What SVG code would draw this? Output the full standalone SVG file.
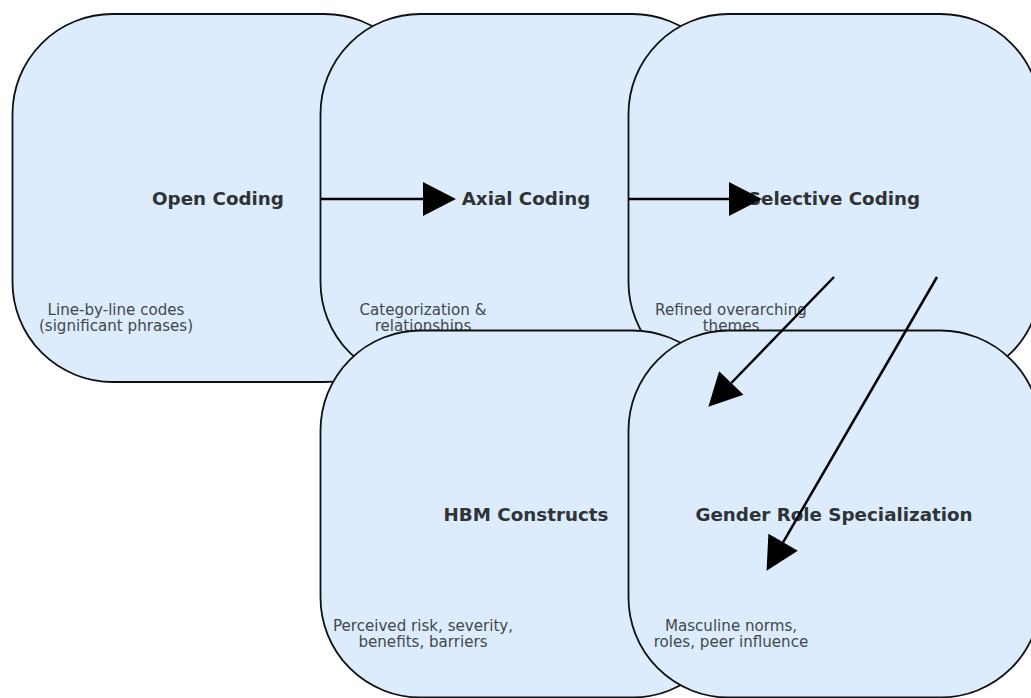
<svg xmlns="http://www.w3.org/2000/svg" width="1031" height="698" viewBox="0 0 1031 698">
  <style>
    .box { fill: #dcecfd; stroke: #111111; stroke-width: 1.8; }
    .title { font-family: "DejaVu Sans", sans-serif; font-weight: bold; font-size: 18.3px; fill: #2f3336; text-anchor: middle; }
    .sub { font-family: "DejaVu Sans", sans-serif; font-size: 15.1px; fill: #43474b; text-anchor: middle; }
    .conn { stroke: #000000; stroke-width: 2.5; fill: none; marker-end: url(#head); }
  </style>
  <defs>
    <marker id="head" markerUnits="userSpaceOnUse" markerWidth="34" markerHeight="36" viewBox="0 -17 33 34" refX="0" refY="0" orient="auto" overflow="visible">
      <path d="M0,-16.5 L32,0 L0,16.5 Z" fill="#000000"/>
    </marker>
  </defs>
  <rect width="1031" height="698" fill="#ffffff"/>

  <g id="node-open">
    <rect class="box" x="12.5" y="14" width="412" height="368" rx="100" ry="100"/>
    <text class="title" x="218" y="204.5">Open Coding</text>
    <text class="sub" x="116" y="314.5">Line-by-line codes</text>
    <text class="sub" x="116" y="330.5">(significant phrases)</text>
  </g>
  <g id="node-axial">
    <rect class="box" x="320.5" y="14" width="412" height="368" rx="100" ry="100"/>
    <text class="title" x="526" y="204.5">Axial Coding</text>
    <text class="sub" x="423" y="314.5">Categorization &amp;</text>
    <text class="sub" x="423" y="330.5">relationships</text>
  </g>
  <g id="node-selective">
    <rect class="box" x="628.5" y="14" width="412" height="368" rx="100" ry="100"/>
    <text class="title" x="834" y="204.5">Selective Coding</text>
    <text class="sub" x="731" y="314.5">Refined overarching</text>
    <text class="sub" x="731" y="330.5">themes</text>
  </g>
  <g id="node-hbm">
    <rect class="box" x="320.5" y="330.5" width="412" height="367" rx="100" ry="100"/>
    <text class="title" x="526" y="520.5">HBM Constructs</text>
    <text class="sub" x="423" y="631">Perceived risk, severity,</text>
    <text class="sub" x="423" y="647">benefits, barriers</text>
  </g>
  <g id="node-gender">
    <rect class="box" x="628.5" y="330.5" width="412" height="367" rx="100" ry="100"/>
    <text class="title" x="834" y="520.5">Gender Role Specialization</text>
    <text class="sub" x="731" y="631">Masculine norms,</text>
    <text class="sub" x="731" y="647">roles, peer influence</text>
  </g>

  <g id="connectors">
    <line class="conn" x1="320" y1="199" x2="423" y2="199"/>
    <line class="conn" x1="628" y1="199" x2="729" y2="199"/>
    <line class="conn" x1="834" y1="277" x2="731.3" y2="383"/>
    <line class="conn" x1="937" y1="277" x2="783.1" y2="542.3"/>
  </g>
</svg>
